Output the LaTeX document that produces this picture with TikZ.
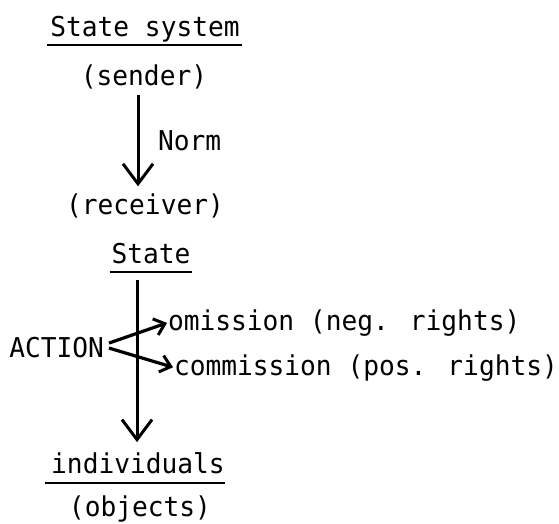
\documentclass[tikz,border=0pt]{standalone}
\usepackage{fontspec}
\newfontfamily\tw[FakeStretch=0.96]{DejaVu Sans Mono}
\usetikzlibrary{arrows.meta}
\begin{document}
\begin{tikzpicture}[x=1pt,y=-1pt,
  txt/.style={inner sep=0pt, outer sep=0pt, font=\tw\fontsize{27.3}{30}\selectfont},
  arr/.style={line width=3pt, -{Straight Barb[length=20pt,width=30pt,line width=3pt]}},
  brarr/.style={line width=3.2pt, -{Straight Barb[length=10pt,width=17pt,line width=3pt]}},
  uline/.style={line width=1.5pt}]
\useasboundingbox (0,0) rectangle (559,524);
\node[txt, anchor=base] (ss) at (145,37) {State system};
\node[txt, anchor=base] (sender) at (144,86) {(sender)};
\node[txt, anchor=base west] (norm) at (158,150) {Norm};
\node[txt, anchor=base] (receiver) at (145,214) {(receiver)};
\node[txt, anchor=base] (st) at (151,263) {State};
\node[txt, anchor=base east] (act) at (104,357) {ACTION};
\node[txt, anchor=base west] (om) at (168,330) {omission (neg. rights)};
\node[txt, anchor=base west] (cm) at (174,375) {commission (pos. rights)};
\node[txt, anchor=base] (ind) at (138,473) {individuals};
\node[txt, anchor=base] (obj) at (140,516) {(objects)};
\coordinate (ax) at (138,0);
\coordinate (bx) at (137,0);
% underlines
\draw[uline] ([xshift=-3pt,yshift=-8pt]ss.base west) -- ([xshift=2pt,yshift=-8pt]ss.base east);
\draw[uline] ([xshift=-2pt,yshift=-9pt]st.base west) -- ([xshift=2pt,yshift=-9pt]st.base east);
\draw[uline] ([xshift=-6pt,yshift=-10pt]ind.base west) -- ([xshift=0pt,yshift=-10pt]ind.base east);
% arrows
\draw[arr, shorten <=5.5pt, shorten >=7pt] (sender.south -| ax) -- (receiver.north -| ax);
\draw[arr, shorten <=17pt, shorten >=10pt] (st.south -| bx) -- (ind.north -| bx);
\draw[brarr, shorten >=1pt] ([xshift=5pt,yshift=4pt]act.east) -- (om.west);
\draw[brarr, shorten >=1pt] ([xshift=5pt,yshift=-1pt]act.east) -- (cm.west);
\end{tikzpicture}
\end{document}
